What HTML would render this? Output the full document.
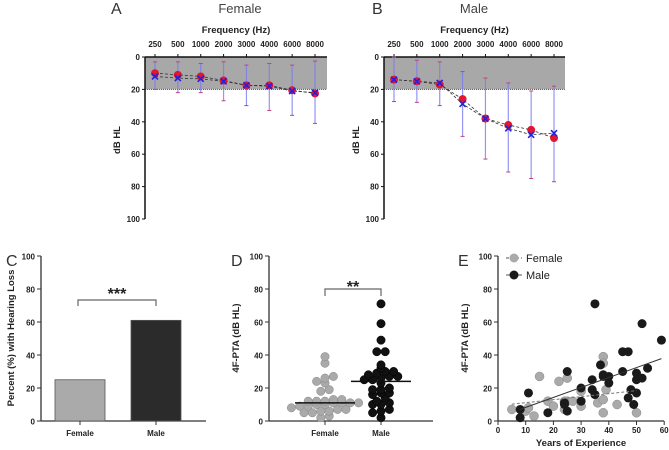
<!DOCTYPE html>
<html><head><meta charset="utf-8"><style>
body{margin:0;background:#fff}
svg{display:block;font-family:"Liberation Sans",Arial,sans-serif}
.tk{font-size:8px;font-weight:bold;fill:#222}
.ttl{font-size:9.5px;font-weight:bold;fill:#222}
.let{font-size:16px;fill:#333}
</style></head><body>
<svg id="s" width="669" height="450" viewBox="0 0 669 450"></svg>
<script>
const freqs=["250","500","1000","2000","3000","4000","6000","8000"];
const femRed=[10,11,12,14.5,17.5,17.5,20.5,22.5];
const femBlue=[12,13,13.5,15,17.5,18,21,22];
const femLo=[3,3,4,3,5,4,5,2.5];
const femHi=[20,22,22,27,30,33,36,41];
const maleRed=[14,15,17,26,38,42,45,50];
const maleBlue=[14,15,16,29,38,44,48,47];
const maleLo=[0,2,3,9,13,16,21,18];
const maleHi=[27.5,28,30,49,63,71,75,77];
const yTicks=[0,20,40,60,80,100];
const barCats=["Female","Male"];
const barVals=[25,61];
const femPTA=[7,6,8,3,27,11,9,24,12,7,26,12,11,9,18,11,39,35,13,5,19,10,5,11,13,23,2,10,6,12];
const malePTA=[7,2,17,5,11,10,30,6,20,12,25,19,71,16,34,28,27,27,23,42,30,42,14,19,10,29,25,17,59,26,32,49];
const femYears=[5,10,11,13,15,18,20,22,24,24,25,25,27,30,30,36,38,38,38,38,39,43,50,24];
const femYPTA=[7,6,8,3,27,12,9,24,12,7,26,12,12,9,18,11,39,35,13,5,19,10,5,11];
const maleYears=[8,8,11,18,24,24,25,25,30,30,34,34,35,35,37,38,38,40,40,45,45,47,47,48,49,50,50,50,52,52,54,59];
const maleYPTA=[7,2,17,5,11,10,30,6,20,12,25,19,71,16,34,28,27,27,23,42,30,42,14,19,10,29,25,17,59,26,32,49];
const eXTicks=[0,10,20,30,40,50,60];

const S=document.getElementById('s');const NS='http://www.w3.org/2000/svg';
function el(t,a,p){const e=document.createElementNS(NS,t);for(const k in a)e.setAttribute(k,a[k]);(p||S).appendChild(e);return e;}
function tx(x,y,s,cls,anchor,extra){const e=el('text',Object.assign({x:x,y:y,class:cls,'text-anchor':anchor||'middle'},extra||{}));e.textContent=s;return e;}
function median(a){const b=[...a].sort((x,y)=>x-y);const m=b.length/2;return b.length%2?b[Math.floor(m)]:(b[m-1]+b[m])/2;}

function audiogram(ax,x0,xEnd,title,titleX,letter,letterX,red,blue,lo,hi){
  const g=el('g',{});
  
  
  const y=v=>57+v*1.62;
  const x=i=>x0+10+i*22.86;
  const sh=el('rect',{x:x0,y:y(0),width:xEnd-x0,height:y(20)-y(0),fill:'#a8a8a8'},g);
  
  
  el('line',{x1:x0,x2:xEnd,y1:y(20),y2:y(20),stroke:'#555','stroke-dasharray':'1,1'},g);
  el('line',{x1:x0,x2:xEnd,y1:y(0),y2:y(0),stroke:'#111','stroke-width':1.5},g);
  el('line',{x1:x0,x2:x0,y1:y(0),y2:y(100),stroke:'#111','stroke-width':1.5},g);
  yTicks.forEach(v=>{el('line',{x1:x0-3,x2:x0,y1:y(v),y2:y(v),stroke:'#111'},g);tx(x0-5,y(v)+3,v,'tk','end');});
  freqs.forEach((f,i)=>{el('line',{x1:x(i),x2:x(i),y1:y(0)-3,y2:y(0),stroke:'#111'},g);tx(x(i),47,f,'tk');});
  tx((x0+xEnd)/2,33,'Frequency (Hz)','ttl');
  tx(titleX,13,title,'','middle',{'font-size':'13','fill':'#444'});
  tx(letterX,14,letter,'let','start');
  freqs.forEach((f,i)=>{
    const eb=el('line',{x1:x(i),x2:x(i),y1:y(lo[i]),y2:y(hi[i]),stroke:'#7b7bf0','stroke-width':1.2,opacity:.8},g);
    
    
    [lo[i],hi[i]].forEach(v=>el('line',{x1:x(i)-2,x2:x(i)+2,y1:y(v),y2:y(v),stroke:'#c04080'},g));
  });
  el('polyline',{points:red.map((v,i)=>x(i)+','+y(v)).join(' '),fill:'none',stroke:'#333','stroke-dasharray':'3,2','stroke-width':.8},g);
  el('polyline',{points:blue.map((v,i)=>x(i)+','+y(v)).join(' '),fill:'none',stroke:'#333','stroke-dasharray':'3,2','stroke-width':.8},g);
  red.forEach((v,i)=>{const c=el('circle',{cx:x(i),cy:y(v),r:4,fill:'#e3162f'},g);
    
    });
  blue.forEach((v,i)=>{const p=el('path',{d:`M${x(i)-3},${y(v)-3}L${x(i)+3},${y(v)+3}M${x(i)+3},${y(v)-3}L${x(i)-3},${y(v)+3}`,stroke:'#2020e0','stroke-width':1.6},g);
    
    });
  const yl=tx(x0-25,140,'dB HL','ttl','middle',{transform:`rotate(-90 ${x0-25} 140)`,'font-size':'8'});
  
  
}
audiogram('female',145,327,'Female',240,'A',111,femRed,femBlue,femLo,femHi);
audiogram('male',384,565,'Male',474,'B',372,maleRed,maleBlue,maleLo,maleHi);

const yP=v=>421-v*1.65;
function leftAxis(x0,xEnd,label,lx){
  el('line',{x1:x0,x2:x0,y1:yP(0),y2:yP(100),stroke:'#333','stroke-width':1.3});
  el('line',{x1:x0,x2:xEnd,y1:yP(0),y2:yP(0),stroke:'#333','stroke-width':1.3});
  yTicks.forEach(v=>{el('line',{x1:x0-4,x2:x0,y1:yP(v),y2:yP(v),stroke:'#333'});tx(x0-6,yP(v)+3.5,v,'tk','end',{'font-size':'9.5'});});
  const t=tx(lx,338,label,'ttl','middle',{transform:`rotate(-90 ${lx} 338)`});
  
  
}
tx(6,266,'C','let','start');
leftAxis(41,206,'Percent (%) with Hearing Loss',14);
const cx=[80,156],barCol=['#aaaaaa','#2b2b2b'];
barCats.forEach((c,i)=>{
  const r=el('rect',{x:cx[i]-25,y:yP(barVals[i]),width:50,height:yP(0)-yP(barVals[i]),fill:barCol[i],stroke:'#555','stroke-width':.8});
  
  
  el('line',{x1:cx[i],x2:cx[i],y1:yP(0),y2:yP(0)+4,stroke:'#333'});
  tx(cx[i],436,c,'tk','middle',{'font-size':'9.5'});
});
el('path',{d:'M78,306V300H156V306',fill:'none',stroke:'#666','stroke-width':1.2});
tx(117,299,'***','','middle',{'font-size':'16','font-weight':'bold','fill':'#222'});

tx(231,266,'D','let','start');
leftAxis(269,433,'4F-PTA (dB HL)',239);
const dx=[325,381],dcol=['#aaaaaa','#111111'],dst=['#888','#000'];
function swarm(vals,cxp,col,stk,name){
  const r=4.2,sp=8.4,binW=3.2;const bins={};
  [...vals].sort((a,b)=>a-b).forEach(v=>{const b=Math.round(v/binW);(bins[b]=bins[b]||[]).push(v);});
  Object.keys(bins).forEach(b=>{const arr=bins[b];const n=arr.length;
    arr.forEach((v,j)=>{const px=cxp+(j-(n-1)/2)*sp;
      const c=el('circle',{cx:px,cy:yP(v),r:r,fill:col,stroke:stk,'stroke-width':.5});
      
      });
  });
}
swarm(femPTA,dx[0],dcol[0],dst[0],'female-point');
swarm(malePTA,dx[1],dcol[1],dst[1],'male-point');
[femPTA,malePTA].forEach((a,i)=>{const m=median(a);const l=el('line',{x1:dx[i]-30,x2:dx[i]+30,y1:yP(m),y2:yP(m),stroke:'#111','stroke-width':1.5});
  
  });
barCats.forEach((c,i)=>{el('line',{x1:dx[i],x2:dx[i],y1:yP(0),y2:yP(0)+4,stroke:'#333'});tx(dx[i],436,c,'tk','middle',{'font-size':'9.5'});});
el('path',{d:'M325,296V289H381V296',fill:'none',stroke:'#666','stroke-width':1.2});
tx(353,292,'**','','middle',{'font-size':'16','font-weight':'bold','fill':'#222'});

tx(458,266,'E','let','start');
leftAxis(498,664,'4F-PTA (dB HL)',468);
const xE=v=>498+v*2.77;
eXTicks.forEach(v=>{el('line',{x1:xE(v),x2:xE(v),y1:yP(0),y2:yP(0)+4,stroke:'#333'});tx(xE(v),433,v,'tk','middle',{'font-size':'9.5'});});
tx(581,446,'Years of Experience','ttl','middle',{'font-size':'10.5'});
function fit(xs,ys){const n=xs.length,mx=xs.reduce((a,b)=>a+b)/n,my=ys.reduce((a,b)=>a+b)/n;let sxy=0,sxx=0;xs.forEach((x,i)=>{sxy+=(x-mx)*(ys[i]-my);sxx+=(x-mx)**2;});const b=sxy/sxx;return[my-b*mx,b];}
femYears.forEach((v,i)=>{const c=el('circle',{cx:xE(v),cy:yP(femYPTA[i]),r:4.5,fill:'#aaaaaa',stroke:'#888','stroke-width':.5});
  
  });
maleYears.forEach((v,i)=>{const c=el('circle',{cx:xE(v),cy:yP(maleYPTA[i]),r:4.5,fill:'#1a1a1a'});
  
  });
const ff=fit(femYears,femYPTA),mf=fit(maleYears,maleYPTA);
const fl=el('line',{x1:xE(5),x2:xE(50),y1:yP(ff[0]+ff[1]*5),y2:yP(ff[0]+ff[1]*50),stroke:'#777','stroke-dasharray':'3,2'});


const ml=el('line',{x1:xE(8),x2:xE(59),y1:yP(mf[0]+mf[1]*8),y2:yP(mf[0]+mf[1]*59),stroke:'#333'});


[['Female','#aaaaaa','3,2',258],['Male','#1a1a1a','',275]].forEach(l=>{
  const g=el('g',{});
  
  
  el('line',{x1:506,x2:522,y1:l[3],y2:l[3],stroke:'#555','stroke-dasharray':l[2]},g);
  el('circle',{cx:514,cy:l[3],r:4.5,fill:l[1]},g);
  tx(526,l[3]+4,l[0],'','start',{'font-size':'11','fill':'#222'});
});
</script>
</body></html>
